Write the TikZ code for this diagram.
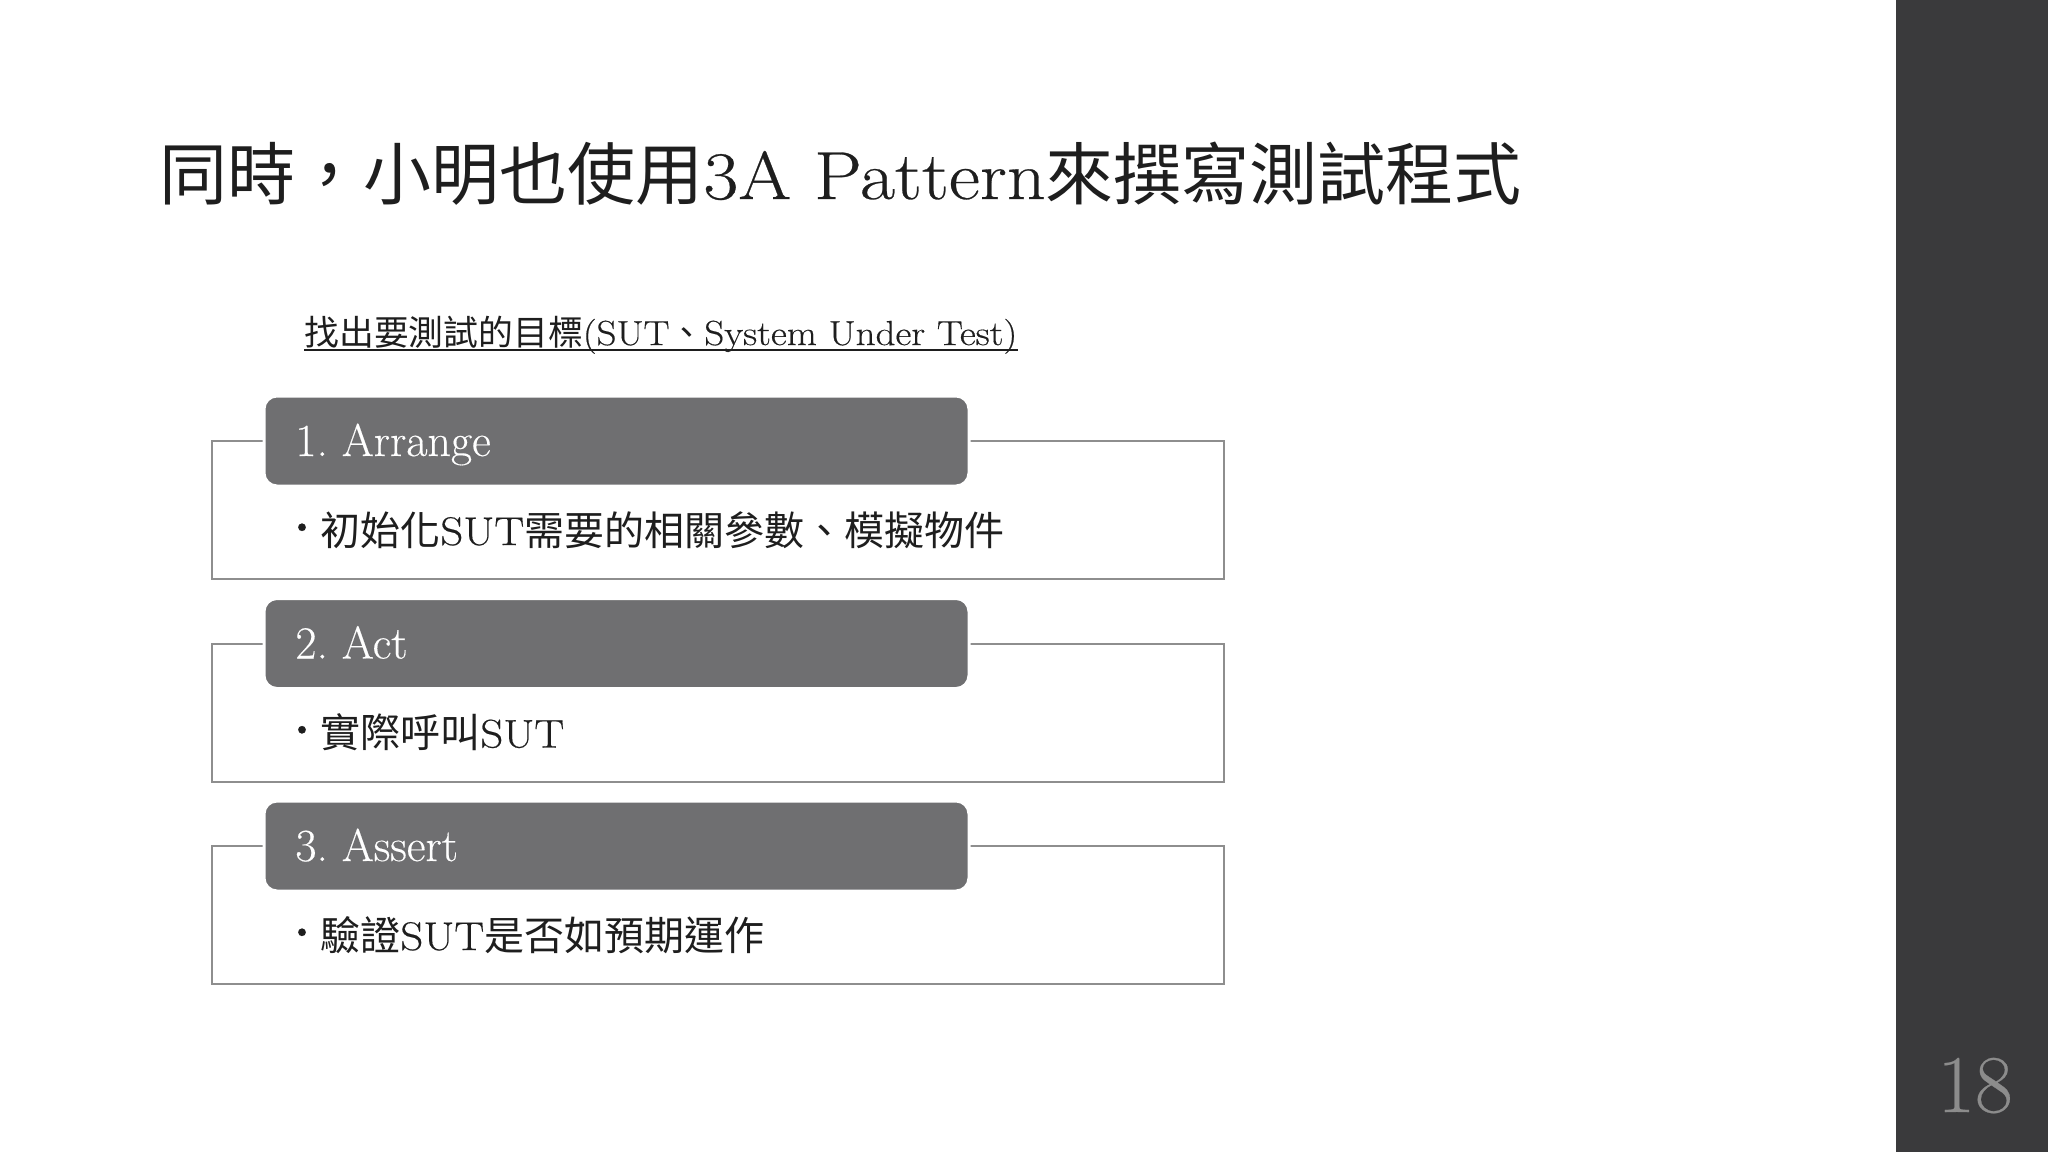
\documentclass[tikz,border=0pt]{standalone}
\usepackage{fontspec}
\setmainfont{Latin Modern Roman}[FakeBold=0.3]
\newfontfamily\lat{Latin Modern Roman}[FakeBold=0.4,FakeStretch=1.12]
\newfontfamily\cjk{Noto Sans CJK TC}
\definecolor{barc}{HTML}{3A3A3C}
\definecolor{numc}{HTML}{8C8C8C}
\definecolor{headc}{HTML}{6F6F71}
\definecolor{framec}{HTML}{8E8E8E}
\definecolor{textc}{HTML}{1E1E1E}
\tikzset{
  outerbox/.style={draw=framec, line width=1pt, fill=white, inner sep=0, outer sep=0, anchor=north west, minimum width=506pt, minimum height=69pt},
  headbox/.style={draw=white, line width=1.5pt, fill=headc, rounded corners=6.5pt, inner sep=0, outer sep=0, anchor=north west, minimum width=352.5pt, minimum height=45pt},
  headtext/.style={anchor=base west, inner sep=0, text=white, font=\fontsize{23}{28}\selectfont},
  itemtext/.style={anchor=base west, inner sep=0, text=textc, font=\fontsize{20}{24}\selectfont},
  bulletdot/.style={anchor=base, inner sep=0, text=textc, font=\fontsize{14}{16}\selectfont},
}
\begin{document}
\begin{tikzpicture}[x=0.5pt,y=-0.5pt]
\useasboundingbox (0,0) rectangle (2048,1152);
\fill[white] (0,0) rectangle (2048,1152);
% right bar
\fill[barc] (1896,0) rectangle (2048,1152);
\node[anchor=base, inner sep=0, text=numc, font=\fontsize{41}{48}\selectfont] (pagenum) at (1975,1112) {18};
% title
\node[anchor=base west, inner sep=0, text=textc, font=\fontsize{34}{40}\selectfont] (title) at (159,199) {{\cjk 同時，小明也使用}{\lat 3A Pattern}{\cjk 來撰寫測試程式}};
% subtitle
\node[anchor=base west, inner sep=0, text=textc, font=\fontsize{17.4}{20}\selectfont] (sub) at (304,345) {{\cjk 找出要測試的目標}{\lat (SUT}{\cjk 、}{\lat System Under Test)}};
\draw[textc, line width=0.8pt] (sub.south west |- 0,350) -- (sub.south east |- 0,350);
% block 1
\node[outerbox] (o1) at (212,441) {};
\node[headbox] (h1) at (264,396) {};
\node[headtext] (t1) at (295,456) {1.\ Arrange};
\node[bulletdot] (b1) at (302,534) {\textbullet};
\node[itemtext] (i1) at (320,545) {{\cjk 初始化}{\lat SUT}{\cjk 需要的相關參數、模擬物件}};
% block 2
\node[outerbox] (o2) at (212,643.5) {};
\node[headbox] (h2) at (264,598.5) {};
\node[headtext] (t2) at (295,658.5) {2.\ Act};
\node[bulletdot] (b2) at (302,736.5) {\textbullet};
\node[itemtext] (i2) at (320,747.5) {{\cjk 實際呼叫}{\lat SUT}};
% block 3
\node[outerbox] (o3) at (212,846) {};
\node[headbox] (h3) at (264,801) {};
\node[headtext] (t3) at (295,861) {3.\ Assert};
\node[bulletdot] (b3) at (302,939) {\textbullet};
\node[itemtext] (i3) at (320,950) {{\cjk 驗證}{\lat SUT}{\cjk 是否如預期運作}};
\end{tikzpicture}
\end{document}
